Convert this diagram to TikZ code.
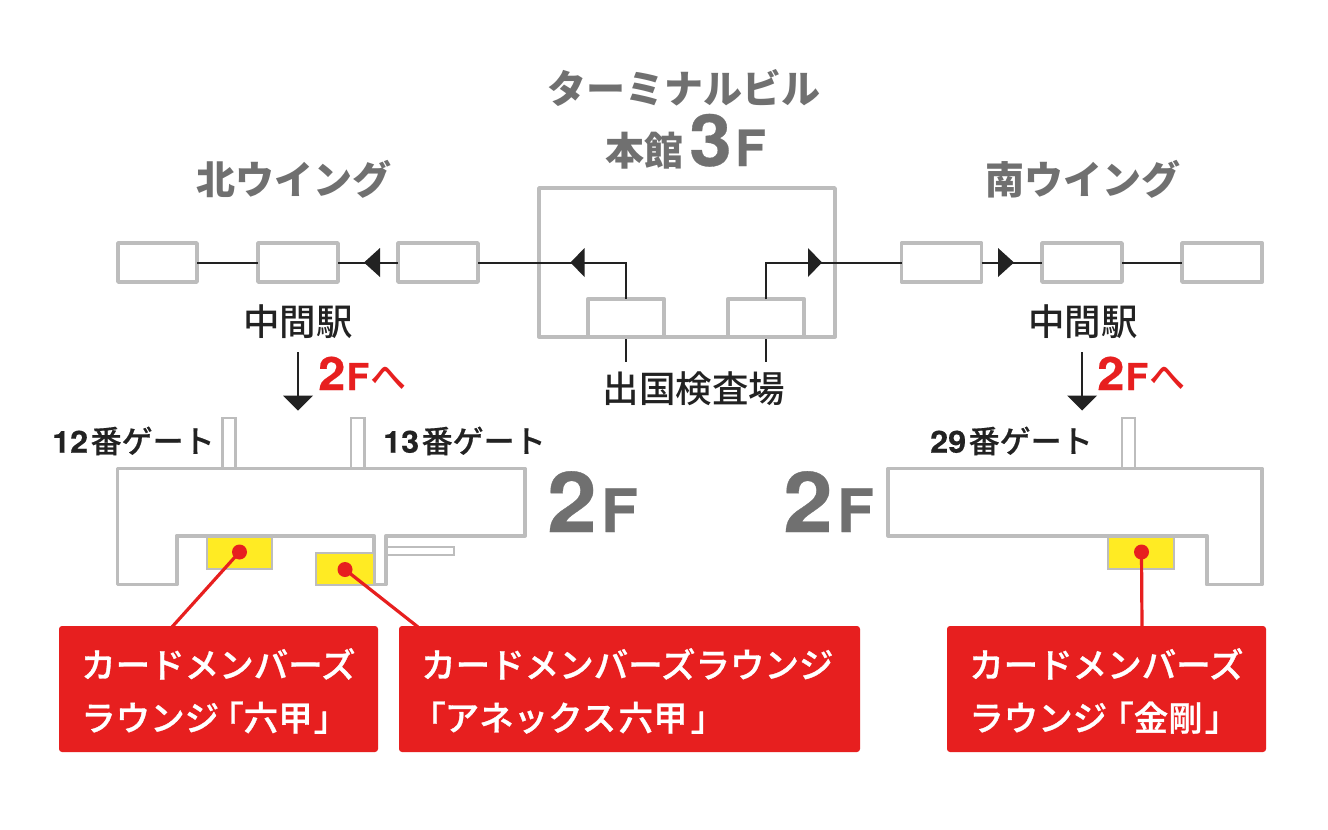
\documentclass[tikz,border=0pt]{standalone}
\usepackage{fontspec}
\setmainfont{Noto Sans CJK JP}
\newfontfamily\jpm{Noto Sans CJK JP Medium}
\newfontfamily\jpc[FakeBold=0.9]{Noto Sans CJK JP Medium}
\newfontfamily\jpg[FakeBold=0.5]{Noto Sans CJK JP Medium}
\newfontfamily\lat[FakeStretch=1.06,BoldFeatures={FakeBold=0.4}]{TeX Gyre Heros}
\newfontfamily\latf[BoldFeatures={FakeBold=0.4}]{TeX Gyre Heros}
\usetikzlibrary{calc}
\definecolor{wall}{HTML}{BDBDBD}
\definecolor{ink}{HTML}{222222}
\definecolor{head}{HTML}{707070}
\definecolor{redc}{HTML}{E71F1F}
\definecolor{yel}{HTML}{FFEB23}
\tikzset{
  x=1pt,y=-1pt,
  wallline/.style={draw=wall,line width=3.8pt,line join=round},
  gatebox/.style={draw=wall,line width=2.4pt,fill=white},
  roombox/.style={wallline,fill=white,anchor=north west,inner sep=0pt,outer sep=0pt},
  lounge/.style={draw=wall,line width=2pt,fill=yel},
  conn/.style={draw=ink,line width=2pt},
  tri/.style={fill=ink,draw=none},
  dotn/.style={circle,fill=redc,draw=none,minimum size=15pt,inner sep=0pt},
  redline/.style={draw=redc,line width=3.2pt},
  cardbox/.style={fill=redc,rounded corners=3pt,anchor=north west,inner sep=0pt,outer sep=0pt},
  cardtext/.style={text=white,font=\jpc\fontsize{34.5}{53}\selectfont,align=left,anchor=west,inner sep=0pt},
  headt/.style={text=head,font=\fontsize{39}{46}\selectfont\bfseries,inner sep=0pt},
  inkt/.style={text=ink,font=\jpm\fontsize{36.5}{44}\selectfont,inner sep=0pt},
  gatet/.style={text=ink,font=\jpg\fontsize{31}{36}\selectfont,inner sep=0pt},
  bigf/.style={text=head,inner sep=0pt},
  redt/.style={text=redc,inner sep=0pt},
}
\newcommand{\room}[5]{\node[roombox,minimum width=#4pt,minimum height=#5pt] (#1) at (#2,#3) {};}
\newcommand{\latb}[2]{{\lat\bfseries\fontsize{#1}{#1}\selectfont #2}}
\newcommand{\latF}[1]{{\latf\bfseries\fontsize{#1}{#1}\selectfont F}}
\begin{document}
\begin{tikzpicture}
\useasboundingbox (0,0) rectangle (1328,830);
\fill[white] (0,0) rectangle (1328,830);

% terminal
\draw[wallline] (539,188) rectangle (835,336.7);
\room{c1}{587.7}{299.3}{76.6}{37.4}
\room{c2}{727.7}{299.3}{76.6}{37.4}

% rooms in top row
\room{n1}{118}{243}{79}{39}
\room{n2}{258}{243}{80}{39}
\room{n3}{398}{243}{80}{39}
\room{s1}{901.5}{243}{80}{39}
\room{s2}{1042}{243}{80}{39}
\room{s3}{1182}{243}{80}{39}

\coordinate (cl) at (626,262.5);
\coordinate (cr) at (766,262.5);
\coordinate (tl) at (626,339);
\coordinate (tlb) at (626,362);
\coordinate (tr) at (766,339);
\coordinate (trb) at (766,362);
\draw[conn] (n1.east) -- (n2.west);
\draw[conn] (n2.east) -- (n3.west);
\draw[conn] (n3.east) -- (cl) -- (c1.north);
\draw[conn] (c2.north) -- (cr) -- (s1.west);
\draw[conn] (s1.east) -- (s2.west);
\draw[conn] (s2.east) -- (s3.west);
\draw[conn] (tl) -- (tlb);
\draw[conn] (tr) -- (trb);
\fill[tri] (570.5,262.5) -- (584.5,248) -- (584.5,277) -- cycle;
\fill[tri] (822,262.5) -- (808,248) -- (808,277) -- cycle;
\fill[tri] (364,262.5) -- (380,248) -- (380,277) -- cycle;
\fill[tri] (1014,262.5) -- (998,248) -- (998,277) -- cycle;

% titles
\node[headt] (t1) at (684,88) {ターミナルビル};
\node[headt,anchor=base west] (t2) at (605,165) {本館};
\node[bigf,anchor=base west] (t2b) at (689,166) {\latb{72}{3}};
\node[bigf,anchor=base west] (t2c) at (735,166) {\latF{50}};
\node[headt] (t3) at (294,179) {北ウイング};
\node[headt] (t4) at (1083,179) {南ウイング};
\node[inkt] (m1) at (298,322) {中間駅};
\node[inkt] (m2) at (1083,322) {中間駅};
\node[inkt] (ex) at (694,389) {出国検査場};

% down arrows
\coordinate (d1a) at (298,352);
\coordinate (d1b) at (298,398);
\coordinate (d2a) at (1082,352);
\coordinate (d2b) at (1082,398);
\draw[conn] (d1a) -- (d1b);
\draw[conn] (d2a) -- (d2b);
\fill[tri] (283,395.5) -- (313,395.5) -- (298,410.5) -- cycle;
\fill[tri] (1067,395.5) -- (1097,395.5) -- (1082,410.5) -- cycle;
\node[redt,anchor=base west] (r1) at (318,390) {\latb{46}{2}};
\node[redt,anchor=base west] (r1b) at (346.5,390) {\latF{37}};
\node[redt,anchor=base west,font=\jpm\fontsize{36}{36}\selectfont] (r1c) at (370,390) {へ};
\node[redt,anchor=base west] (r2) at (1097,390) {\latb{46}{2}};
\node[redt,anchor=base west] (r2b) at (1125.5,390) {\latF{37}};
\node[redt,anchor=base west,font=\jpm\fontsize{36}{36}\selectfont] (r2c) at (1149,390) {へ};

% gates
\draw[gatebox] (222.5,418) rectangle (235.5,468);
\draw[gatebox] (351,418) rectangle (364.5,468);
\draw[gatebox] (1122,418) rectangle (1135,468);
\node[gatet,anchor=west] (g1) at (52,441) {\latb{30.5}{12}\hspace{2.5pt}番ゲート};
\node[gatet,anchor=west] (g2) at (383,441) {\latb{30.5}{13}\hspace{2.5pt}番ゲート};
\node[gatet,anchor=west] (g3) at (930,441) {\latb{30.5}{29}\hspace{2.5pt}番ゲート};

% 2F left
\draw[gatebox,line width=2pt] (386,547) rectangle (454,554.7);
\draw[wallline,fill=white] (117.5,468.5) -- (525,468.5) -- (525,535.7) -- (386,535.7) -- (386,584.5) -- (374,584.5) -- (374,535.7) -- (176.7,535.7) -- (176.7,584.5) -- (117.5,584.5) -- cycle;
\node[lounge,anchor=north west,inner sep=0pt,minimum width=65pt,minimum height=32pt] (y1) at (206,536) {};
\node[lounge,anchor=north west,inner sep=0pt,minimum width=58pt,minimum height=32.5pt] (y2) at (315,551.5) {};
\node[bigf,anchor=base west] (f1) at (547,532) {\latb{84}{2}};
\node[bigf,anchor=base west] (f1b) at (601,532) {\latF{60}};

% 2F right
\draw[wallline,fill=white] (888.3,468.5) -- (1262,468.5) -- (1262,584.5) -- (1206.7,584.5) -- (1206.7,535.7) -- (888.3,535.7) -- cycle;
\node[lounge,anchor=north west,inner sep=0pt,minimum width=66pt,minimum height=32pt] (y3) at (1106.5,536) {};
\node[bigf,anchor=base west] (f2) at (783,532) {\latb{84}{2}};
\node[bigf,anchor=base west] (f2b) at (837,532) {\latF{60}};

% cards
\node[cardbox,minimum width=319pt,minimum height=126pt] (k1) at (59,626) {};
\node[cardbox,minimum width=461pt,minimum height=126pt] (k2) at (399,626) {};
\node[cardbox,minimum width=319pt,minimum height=126pt] (k3) at (947,626) {};
\node[cardtext] (k1t) at (81,691) {カードメンバーズ\\ラウンジ\hspace{-10pt}「六甲\hspace{1pt}」};
\node[cardtext] (k2t) at (421,691) {カードメンバーズラウンジ\\\hspace*{-10pt}「\hspace{-1pt}アネックス\hspace{2.5pt}六甲\hspace{3pt}」};
\node[cardtext] (k3t) at (969,691) {カードメンバーズ\\ラウンジ\hspace{-8pt}「金剛\hspace{2pt}」};

% leaders
\node[dotn] (p1) at (239.5,552) {};
\node[dotn] (p2) at (345,569.5) {};
\node[dotn] (p3) at (1141.5,552) {};
\coordinate (q1) at (172,627);
\coordinate (q2) at (418,627);
\coordinate (q3) at (1142,627);
\draw[redline] (p1.center) -- (q1);
\draw[redline] (p2.center) -- (q2);
\draw[redline] (p3.center) -- (q3);
\end{tikzpicture}
\end{document}
